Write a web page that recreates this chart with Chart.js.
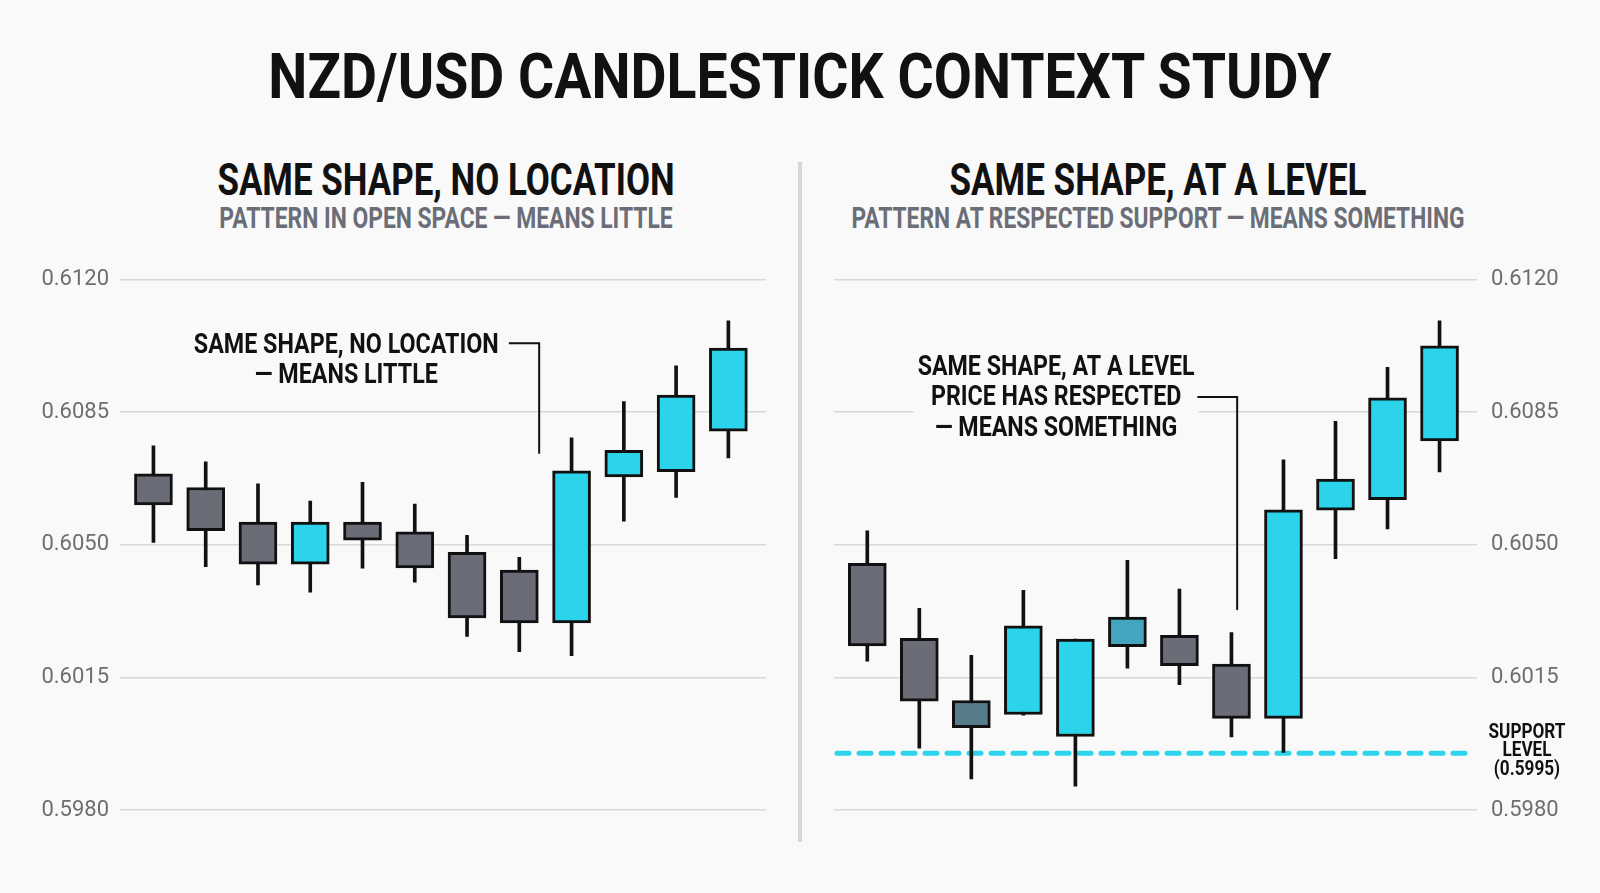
<!DOCTYPE html>
<html>
<head>
<meta charset="utf-8">
<title>NZD/USD Candlestick Context Study</title>
<script src="https://cdn.jsdelivr.net/npm/chart.js@4.4.1/dist/chart.umd.min.js"></script>
<style>
  html, body { margin: 0; padding: 0; }
  body { width: 1600px; height: 893px; background: #f9f9f9; position: relative; overflow: hidden; font-family: Roboto, "Liberation Sans", sans-serif; }
  .txt { position: absolute; white-space: nowrap; line-height: 1; transform: translate(-50%, -50%); }
  .main { font-weight: 700; font-size: 63px; color: #111; }
  .head { font-weight: 700; font-size: 45px; color: #111; }
  .sub { font-weight: 700; font-size: 30px; color: #6b6e76; }
  .box { position: absolute; top: 240px; width: 800px; height: 600px; }
  #divider { position: absolute; left: 798px; top: 162px; width: 4px; height: 680px; background: #d6d6d6; }
</style>
</head>
<body>
<div class="txt main" data-w="1063" style="left:800px; top:76px;">NZD/USD CANDLESTICK CONTEXT STUDY</div>
<div class="txt head" data-w="457" style="left:446px; top:179px;">SAME SHAPE, NO LOCATION</div>
<div class="txt sub" data-w="453" style="left:446px; top:218px;">PATTERN IN OPEN SPACE — MEANS LITTLE</div>
<div class="txt head" data-w="417" style="left:1158px; top:179px;">SAME SHAPE, AT A LEVEL</div>
<div class="txt sub" data-w="613" style="left:1158px; top:218px;">PATTERN AT RESPECTED SUPPORT — MEANS SOMETHING</div>
<div id="divider"></div>
<div class="box" style="left:0;"><canvas id="leftChart"></canvas></div>
<div class="box" style="left:800px;"><canvas id="rightChart"></canvas></div>

<script>
// sessions (candle number) shared by both panels
const sessions = [1, 2, 3, 4, 5, 6, 7, 8, 9, 10, 11, 12];

// left panel: pattern in open space
const leftOpen  = [0.60687, 0.60651, 0.60560, 0.60449, 0.60560, 0.60534, 0.60480, 0.60433, 0.60294, 0.60679, 0.60693, 0.60800];
const leftHigh  = [0.60761, 0.60719, 0.60661, 0.60615, 0.60665, 0.60607, 0.60525, 0.60467, 0.60782, 0.60878, 0.60972, 0.61091];
const leftLow   = [0.60506, 0.60442, 0.60394, 0.60375, 0.60438, 0.60401, 0.60258, 0.60218, 0.60207, 0.60562, 0.60625, 0.60729];
const leftClose = [0.60605, 0.60537, 0.60449, 0.60560, 0.60512, 0.60439, 0.60307, 0.60294, 0.60695, 0.60749, 0.60895, 0.61019];

// right panel: pattern at respected support
const rightOpen  = [0.60451, 0.60253, 0.60089, 0.60052, 0.59994, 0.60231, 0.60261, 0.60185, 0.60042, 0.60591, 0.60619, 0.60774];
const rightHigh  = [0.60537, 0.60332, 0.60208, 0.60380, 0.60251, 0.60459, 0.60383, 0.60268, 0.60724, 0.60826, 0.60968, 0.61091];
const rightLow   = [0.60193, 0.59963, 0.59882, 0.60050, 0.59863, 0.60174, 0.60131, 0.59993, 0.59952, 0.60463, 0.60542, 0.60692];
const rightClose = [0.60233, 0.60087, 0.60017, 0.60286, 0.60251, 0.60309, 0.60181, 0.60042, 0.60592, 0.60673, 0.60888, 0.61025];

const yTicks = [0.5980, 0.6015, 0.6050, 0.6085, 0.6120];
const supportLevel = 0.5995;

// styling
const CYAN = '#2bd4ea';
const GRAY = '#6a6d77';
const INK = '#111111';
const BG = '#f9f9f9';
const rightTints = { 2: '#587d8a', 5: '#43a6bf' };

function bodyColors(open, close, tints) {
  return open.map((o, i) => (tints && tints[i]) || (close[i] >= o ? CYAN : GRAY));
}

function fitText() {
  document.querySelectorAll('.txt').forEach(el => {
    const s = Number(el.dataset.w) / el.offsetWidth;
    el.style.transform = `translate(-50%, -50%) scaleX(${s})`;
  });
}

function condensed(ctx, text, cx, cy, size, sx, color) {
  ctx.save();
  ctx.font = `700 ${size}px Roboto`;
  ctx.fillStyle = color;
  ctx.textAlign = 'center';
  ctx.textBaseline = 'alphabetic';
  ctx.translate(cx, cy + size * 0.355);
  ctx.scale(sx, 1);
  ctx.fillText(text, 0, 0);
  ctx.restore();
}

const notesPlugin = {
  id: 'notes',
  beforeDatasetsDraw(chart, args, opts) {
    const { ctx, chartArea, scales: { x, y } } = chart;
    ctx.save();

    if (opts.support != null) {
      const py = y.getPixelForValue(opts.support);
      ctx.strokeStyle = CYAN;
      ctx.lineWidth = 5;
      ctx.lineCap = 'round';
      ctx.setLineDash([12, 10]);
      ctx.beginPath();
      ctx.moveTo(chartArea.left + 3, py);
      ctx.lineTo(chartArea.right - 3, py);
      ctx.stroke();
      ctx.setLineDash([]);
      const lbl = ['SUPPORT', 'LEVEL', `(${opts.support.toFixed(4)})`];
      ctx.font = '700 20px Roboto';
      const sx = 77 / ctx.measureText(lbl[0]).width;
      lbl.forEach((t, i) => condensed(ctx, t, chartArea.right + 50, py - 4 + (i - 1) * 18.3, 20, sx, INK));
    }

    const c = opts.callout;
    if (c) {
      ctx.font = `700 ${c.size}px Roboto`;
      const sx = c.width / ctx.measureText(c.lines[0]).width;
      const cx = x.getPixelForValue(c.x);
      const cy = y.getPixelForValue(c.y);
      if (c.box) {
        ctx.fillStyle = BG;
        ctx.fillRect(cx - c.width / 2 - 4, cy - 20, c.width + 8, c.lineHeight * (c.lines.length - 1) + 40);
      }
      c.lines.forEach((t, i) => condensed(ctx, t, cx, cy + i * c.lineHeight, c.size, sx, INK));
      ctx.strokeStyle = INK;
      ctx.lineWidth = 2;
      ctx.beginPath();
      c.leader.forEach(([lx, ly], i) => {
        const px = x.getPixelForValue(lx), pyy = y.getPixelForValue(ly);
        if (i === 0) ctx.moveTo(px, pyy); else ctx.lineTo(px, pyy);
      });
      ctx.stroke();
    }
    ctx.restore();
  }
};

function makeChart(id, open, high, low, close, side, tints, notes) {
  const isRight = side === 'right';
  return new Chart(document.getElementById(id), {
    type: 'bar',
    data: {
      datasets: [
        {
          label: 'Body',
          data: sessions.map((s, i) => ({ x: i, y: [open[i], close[i]] })),
          backgroundColor: bodyColors(open, close, tints),
          borderColor: INK,
          borderWidth: 3,
          borderSkipped: false,
          barThickness: 38,
          grouped: false,
          order: 0
        },
        {
          label: 'Wick',
          data: sessions.map((s, i) => ({ x: i, y: [low[i], high[i]] })),
          backgroundColor: INK,
          borderWidth: 0,
          barThickness: 3,
          grouped: false,
          order: 1
        }
      ]
    },
    options: {
      responsive: false,
      animation: false,
      devicePixelRatio: 1,
      layout: { padding: { top: 39.5, bottom: 30, left: isRight ? 34 : 0, right: isRight ? 0 : 34 } },
      plugins: { legend: { display: false }, tooltip: { enabled: false }, notes: notes },
      scales: {
        x: { type: 'linear', display: false, offset: false, grid: { offset: false }, min: -0.64, max: 11.72 },
        y: {
          position: side,
          min: yTicks[0],
          max: yTicks[yTicks.length - 1],
          afterFit: s => { s.width = isRight ? 123 : 120; },
          afterBuildTicks: s => { s.ticks = yTicks.map(v => ({ value: v })); },
          border: { display: false },
          grid: { color: '#d8d8d8', lineWidth: 1.5, drawTicks: false },
          ticks: {
            padding: isRight ? 14 : 11,
            color: '#6e6e6e',
            font: { family: 'Roboto', size: 22, weight: '400' },
            callback: v => Number(v).toFixed(4)
          }
        }
      }
    },
    plugins: [notesPlugin]
  });
}

function build() {
  fitText();
  ['leftChart', 'rightChart'].forEach(id => {
    const cv = document.getElementById(id);
    cv.width = 800; cv.height = 600;
    cv.style.width = '800px'; cv.style.height = '600px';
  });

  makeChart('leftChart', leftOpen, leftHigh, leftLow, leftClose, 'left', null, {
    callout: {
      lines: ['SAME SHAPE, NO LOCATION', '— MEANS LITTLE'],
      x: 3.69, y: 0.61032, size: 27, width: 305, lineHeight: 30.6, box: false,
      leader: [[6.80, 0.61032], [7.38, 0.61032], [7.38, 0.60740]]
    }
  });

  makeChart('rightChart', rightOpen, rightHigh, rightLow, rightClose, 'right', rightTints, {
    support: supportLevel,
    callout: {
      lines: ['SAME SHAPE, AT A LEVEL', 'PRICE HAS RESPECTED', '— MEANS SOMETHING'],
      x: 3.63, y: 0.60974, size: 27, width: 277, lineHeight: 30.6, box: true,
      leader: [[6.36, 0.60890], [7.11, 0.60890], [7.11, 0.60330]]
    }
  });
}

if (document.fonts && document.fonts.ready) {
  document.fonts.load('700 20px Roboto').then(() => document.fonts.ready).then(build);
} else {
  build();
}
</script>
</body>
</html>
